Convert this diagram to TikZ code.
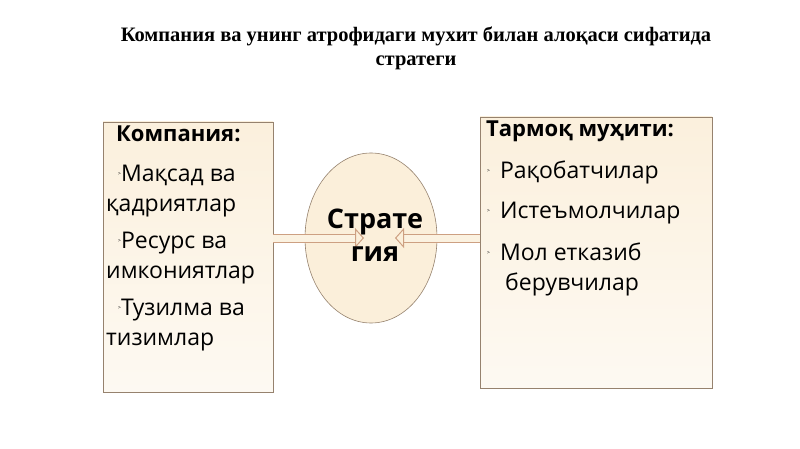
\documentclass[tikz,border=0pt]{standalone}
\usepackage{fontspec}
\setmainfont{Open Sans}
\newfontfamily\titlefont{Liberation Serif}
\usetikzlibrary{arrows.meta,shapes.geometric}
\definecolor{boxfill}{RGB}{250,236,212}
\definecolor{boxedge}{RGB}{150,130,110}
\definecolor{arr}{RGB}{205,160,130}
\begin{document}
\begin{tikzpicture}[x=1pt,y=-1pt,
  box/.style={draw=boxedge,line width=0.6pt,top color=boxfill!80,bottom color=boxfill!30!white,inner sep=0pt},
  txt/.style={font=\fontsize{23}{30}\selectfont,anchor=north west,align=left,inner sep=0pt},
  conn/.style={draw=arr,line width=1pt,double=boxfill!70!white,double distance=7pt,-{Triangle[open,length=9pt,width=20pt]}}]
\useasboundingbox (0,0) rectangle (800,449);
\fill[white] (0,0) rectangle (800,449);
\node[font=\titlefont\bfseries\fontsize{20.5}{24}\selectfont,align=center,inner sep=0pt] (title) at (416,48)
 {Компания ва унинг атрофидаги мухит билан алоқаси сифатида\\стратеги};
\node[box,minimum width=170pt,minimum height=270pt] (L) at (188,257) {};
\node[box,minimum width=232pt,minimum height=271pt] (R) at (596,252.5) {};
\node[ellipse,draw=boxedge,line width=0.6pt,fill=boxfill!85,minimum width=132pt,minimum height=170pt,inner sep=0pt] (S) at (371,238) {};
\coordinate (la) at (364,238);
\coordinate (ra) at (395,238);
\draw[conn] (L.east|-la) -- (la);
\draw[conn] (R.west|-ra) -- (ra);
\node[font=\bfseries\fontsize{27}{33}\selectfont,align=center,inner sep=0pt] (st) at (375,235) {Страте\\гия};
\node[txt,font=\bfseries\fontsize{22}{27}\selectfont] (lh) at (116,126) {Компания:};
\node[txt] (l1) at (106,165) {\hspace*{12pt}{\tiny\raisebox{6pt}{\textgreater}}Мақсад ва\\қадриятлар};
\node[txt] (l2) at (106,232) {\hspace*{12pt}{\tiny\raisebox{6pt}{\textgreater}}Ресурс ва\\имкониятлар};
\node[txt] (l3) at (106,299) {\hspace*{12pt}{\tiny\raisebox{6pt}{\textgreater}}Тузилма ва\\тизимлар};
\node[txt,font=\bfseries\fontsize{22}{27}\selectfont] (rh) at (486,121) {Тармоқ муҳити:};
\node[txt] (r1) at (487,161) {{\tiny\raisebox{6pt}{\textgreater}}\hspace{10pt}Рақобатчилар};
\node[txt] (r2) at (487,202) {{\tiny\raisebox{6pt}{\textgreater}}\hspace{10pt}Истеъмолчилар};
\node[txt] (r3) at (487,243) {{\tiny\raisebox{6pt}{\textgreater}}\hspace{10pt}Мол етказиб\\\hspace*{18pt}берувчилар};
\end{tikzpicture}
\end{document}
